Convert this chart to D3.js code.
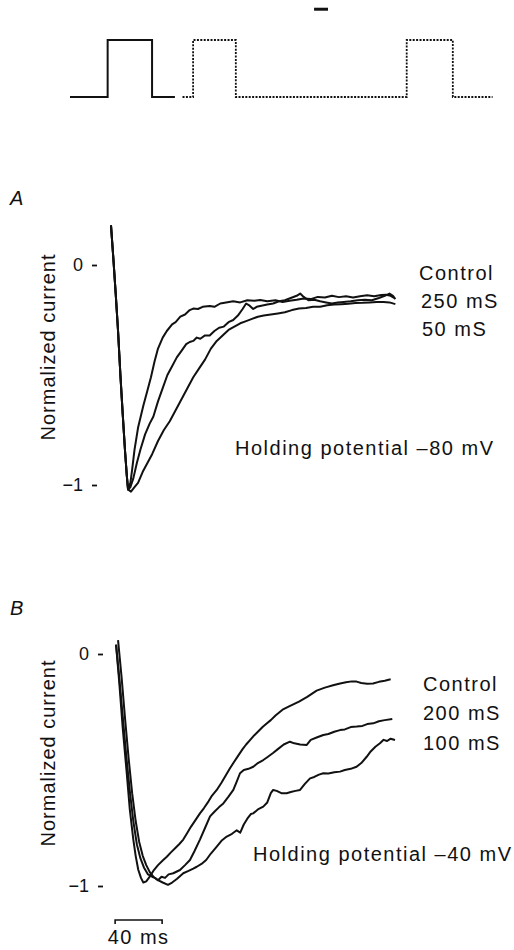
<!DOCTYPE html>
<html>
<head>
<meta charset="utf-8">
<script src="https://cdn.jsdelivr.net/npm/d3@7"></script>
<style>
  body { margin: 0; background: #fff; }
  text { font-family: "Liberation Sans", Arial, sans-serif; fill: #111; }
</style>
</head>
<body>
<script>
// Stimulus protocol (arbitrary time units 0-100, level 0 = holding, 1 = step)
var protoSolid = [[0,0],[8.9,0],[8.9,1],[19.4,1],[19.4,0],[24.8,0]];
var protoDotted = [[26.6,0],[29.1,0],[29.1,1],[39.2,1],[39.2,0],[79.6,0],[79.6,1],[90.5,1],[90.5,0],[99.9,0]];
var protoMark = [[57.7,1.54],[61,1.54]];

// Panel A traces: [time ms, normalized current]
var descentA = [[0,0.18],[2,0.03],[4,-0.13],[6,-0.3],[8,-0.5],[10,-0.68],[12,-0.85],[13.5,-0.96],[14.5,-1.02]];
var controlA = [[16.5,-0.99],[18,-0.93],[20,-0.84],[23,-0.74],[27.5,-0.64],[31,-0.57],[34,-0.51],[37,-0.44],[40,-0.38],[44,-0.33],[47.5,-0.3],[52,-0.27],[55,-0.26],[59,-0.235],[63,-0.225],[67,-0.205],[70,-0.198],[74,-0.2],[78,-0.19],[84,-0.186],[88,-0.19],[93,-0.175],[98,-0.17],[104,-0.165],[110,-0.17],[116,-0.16],[122,-0.162],[127,-0.159],[133,-0.165],[140,-0.16],[146,-0.168],[152,-0.163],[158,-0.158],[164,-0.152],[170,-0.155],[176,-0.145],[182,-0.148],[188,-0.14],[194,-0.146],[200,-0.142],[206,-0.148],[212,-0.142],[218,-0.138],[224,-0.142],[230,-0.136],[234,-0.135],[238,-0.14],[241,-0.15]];
var s250A = [[16.5,-1.01],[19,-0.97],[22,-0.9],[25,-0.84],[29,-0.77],[33,-0.72],[36,-0.69],[40,-0.62],[44,-0.56],[48,-0.5],[52,-0.46],[56,-0.42],[60,-0.39],[64,-0.36],[67,-0.35],[70,-0.345],[73,-0.33],[76,-0.335],[80,-0.32],[84,-0.32],[88,-0.3],[92,-0.285],[96,-0.28],[100,-0.26],[104,-0.25],[108,-0.23],[112,-0.2],[115,-0.175],[118,-0.185],[121,-0.2],[124,-0.19],[128,-0.185],[133,-0.18],[138,-0.175],[143,-0.165],[148,-0.16],[153,-0.15],[158,-0.14],[161,-0.13],[164,-0.145],[168,-0.16],[173,-0.158],[178,-0.165],[183,-0.17],[188,-0.175],[193,-0.17],[198,-0.168],[204,-0.165],[210,-0.16],[216,-0.158],[222,-0.16],[228,-0.15],[233,-0.14],[237,-0.13],[240,-0.14],[242,-0.155]];
var s50A = [[17,-1.03],[20,-1.01],[23,-0.99],[27,-0.94],[31,-0.9],[35,-0.86],[40,-0.8],[45,-0.75],[50,-0.71],[55,-0.66],[60,-0.61],[65,-0.56],[70,-0.51],[75,-0.47],[80,-0.43],[85,-0.38],[90,-0.345],[95,-0.32],[100,-0.295],[105,-0.28],[110,-0.265],[115,-0.255],[120,-0.245],[125,-0.235],[130,-0.23],[136,-0.225],[142,-0.22],[148,-0.215],[154,-0.205],[160,-0.198],[166,-0.195],[172,-0.19],[178,-0.19],[184,-0.183],[190,-0.18],[196,-0.178],[202,-0.176],[208,-0.173],[214,-0.172],[220,-0.17],[226,-0.168],[232,-0.168],[237,-0.17],[242,-0.178]];

// Panel B traces
var controlB = [[4.3,0.04],[7,-0.12],[10,-0.32],[13.4,-0.514],[16,-0.67],[19,-0.8],[21,-0.87],[23.2,-0.93],[25.5,-0.965],[27.5,-0.985],[30,-0.98],[33,-0.96],[36,-0.935],[40,-0.91],[44,-0.89],[47.5,-0.874],[51,-0.855],[55,-0.835],[58,-0.82],[61.5,-0.8],[65,-0.77],[68,-0.745],[72,-0.715],[75.7,-0.687],[79,-0.665],[83,-0.635],[86,-0.61],[90,-0.586],[94,-0.555],[98,-0.52],[101,-0.495],[104,-0.471],[108,-0.44],[112,-0.41],[115,-0.39],[118.3,-0.371],[122,-0.35],[125,-0.335],[129,-0.315],[132.5,-0.3],[136,-0.285],[140,-0.265],[146,-0.24],[152,-0.225],[160,-0.205],[167,-0.185],[175,-0.158],[182,-0.145],[189,-0.135],[195,-0.127],[200,-0.122],[205,-0.118],[209,-0.119],[213,-0.125],[218,-0.128],[223,-0.127],[228,-0.12],[233,-0.115],[238,-0.109]];
var s200B = [[4.3,0.04],[7,-0.1],[10,-0.27],[13,-0.44],[16.2,-0.6],[19,-0.72],[22,-0.82],[25,-0.88],[28,-0.92],[31.5,-0.95],[35,-0.96],[37.4,-0.965],[40,-0.975],[43,-0.96],[46,-0.965],[49,-0.95],[53,-0.945],[58.7,-0.931],[63,-0.91],[67.2,-0.888],[71,-0.85],[75.7,-0.8],[80,-0.75],[84.3,-0.7],[88,-0.68],[92,-0.66],[95.6,-0.644],[100,-0.615],[104.1,-0.586],[107,-0.55],[109.8,-0.514],[113,-0.5],[117,-0.495],[121.1,-0.486],[125,-0.47],[129.6,-0.457],[133,-0.445],[137.9,-0.427],[142,-0.41],[147,-0.39],[152.3,-0.378],[156,-0.385],[161,-0.39],[166.6,-0.392],[170,-0.37],[175,-0.36],[180.7,-0.349],[185,-0.345],[190,-0.335],[194.9,-0.328],[199,-0.325],[204,-0.315],[209.1,-0.313],[214,-0.31],[218,-0.302],[223.2,-0.299],[228,-0.29],[233,-0.285],[239.4,-0.28]];
var s100B = [[6,0.06],[9,-0.1],[12,-0.28],[15,-0.45],[18,-0.6],[21,-0.72],[24,-0.81],[27,-0.87],[30,-0.91],[33,-0.94],[36,-0.96],[40,-0.975],[44,-0.985],[48.5,-0.995],[52,-0.985],[56,-0.97],[61.5,-0.945],[66,-0.935],[70,-0.925],[73,-0.917],[77,-0.905],[81,-0.888],[85,-0.86],[90,-0.83],[94,-0.805],[98.5,-0.787],[103,-0.775],[107,-0.76],[110,-0.77],[113,-0.735],[116,-0.71],[119,-0.69],[121,-0.687],[125,-0.67],[129.6,-0.658],[133,-0.64],[136,-0.6],[138,-0.586],[141,-0.59],[145,-0.6],[149.5,-0.6],[153,-0.595],[157,-0.59],[160.9,-0.586],[165,-0.56],[169.4,-0.536],[173,-0.53],[177,-0.52],[180.7,-0.514],[185,-0.515],[190,-0.51],[194.9,-0.507],[199,-0.5],[204,-0.495],[209,-0.486],[213,-0.47],[217.6,-0.443],[221,-0.42],[225,-0.4],[228.9,-0.385],[232,-0.37],[235,-0.375],[238,-0.365],[241.7,-0.371]];

var tickValues = [0, -1];
var labelsA = ["Control", "250 mS", "50 mS"];
var labelsB = ["Control", "200 mS", "100 mS"];
var holdingA = "Holding potential \u201380 mV";
var holdingB = "Holding potential \u201340 mV";
var scaleBarMs = 40;

var width = 514;
var height = 950;

var svg = d3.select("body")
    .append("svg")
    .attr("width", width)
    .attr("height", height);

// Protocol at the top
var xp = d3.scaleLinear().domain([0, 100]).range([70, 493]);
var yp = d3.scaleLinear().domain([0, 1]).range([97, 40]);
var protoLine = d3.line().x(d => xp(d[0])).y(d => yp(d[1]));

svg.append("path").attr("d", protoLine(protoSolid))
    .attr("fill", "none").attr("stroke", "#111").attr("stroke-width", 2);
svg.append("path").attr("d", protoLine(protoDotted))
    .attr("fill", "none").attr("stroke", "#111").attr("stroke-width", 1.8)
    .attr("stroke-dasharray", "2,1.4");
svg.append("path").attr("d", protoLine(protoMark))
    .attr("fill", "none").attr("stroke", "#111").attr("stroke-width", 3);

// Shared time scale (ms)
var x = d3.scaleLinear().domain([0, 245]).range([111, 111 + 245 * 1.175]);
var yA = d3.scaleLinear().domain([-1, 0]).range([485, 265]);
var yB = d3.scaleLinear().domain([-1, 0]).range([886, 654]);

function drawPanel(y, series, axisX, letter, letterY, labels, labelX, labelYs, holding, holdX, holdY, ylabY) {
    var line = d3.line().x(d => x(d[0])).y(d => y(d[1]));

    svg.selectAll(null)
        .data(series)
        .enter()
        .append("path")
        .attr("d", d => line(d))
        .attr("fill", "none")
        .attr("stroke", "#111")
        .attr("stroke-width", 2)
        .attr("stroke-linejoin", "round");

    var axis = svg.append("g")
        .attr("transform", "translate(" + axisX + ",0)")
        .call(d3.axisLeft(y).tickValues(tickValues).tickSize(5).tickPadding(9).tickFormat(d3.format("d")));
    axis.select(".domain").remove();
    axis.selectAll("line").attr("stroke", "#111").attr("stroke-width", 1.8);
    axis.selectAll("text")
        .attr("font-family", "Liberation Sans, Arial, sans-serif")
        .attr("font-size", "18px")
        .attr("fill", "#111");

    svg.append("text")
        .attr("x", 10).attr("y", letterY)
        .attr("font-size", "20px").attr("font-style", "italic")
        .text(letter);

    svg.append("text")
        .attr("transform", "translate(55," + ylabY + ") rotate(-90)")
        .attr("text-anchor", "middle")
        .attr("font-size", "20px")
        .attr("letter-spacing", "1px")
        .text("Normalized current");

    svg.selectAll(null)
        .data(labels)
        .enter()
        .append("text")
        .attr("x", (d, i) => labelX[i])
        .attr("y", (d, i) => labelYs[i])
        .attr("font-size", "20px")
        .attr("letter-spacing", "1.5px")
        .text(d => d);

    svg.append("text")
        .attr("x", holdX).attr("y", holdY)
        .attr("font-size", "20px")
        .attr("letter-spacing", "1.5px")
        .text(holding);
}

drawPanel(yA, [descentA.concat(controlA), descentA.concat(s250A), descentA.concat(s50A)],
    97, "A", 205, labelsA, [419, 421, 422], [280, 308, 336], holdingA, 235, 455, 347);
drawPanel(yB, [controlB, s200B, s100B],
    103, "B", 615, labelsB, [423, 423, 423], [691, 720, 750], holdingB, 253, 861, 753);

// 40 ms scale bar
var barStart = 3.5;
var bar = svg.append("g");
bar.append("path")
    .attr("d", "M" + x(barStart) + "," + 924 + "V" + 920 + "H" + x(barStart + scaleBarMs) + "V" + 924)
    .attr("fill", "none").attr("stroke", "#111").attr("stroke-width", 1.6);
bar.append("text")
    .attr("x", (x(barStart) + x(barStart + scaleBarMs)) / 2)
    .attr("y", 944)
    .attr("text-anchor", "middle")
    .attr("font-size", "20px")
    .attr("letter-spacing", "1.5px")
    .text(scaleBarMs + " ms");
</script>
</body>
</html>
